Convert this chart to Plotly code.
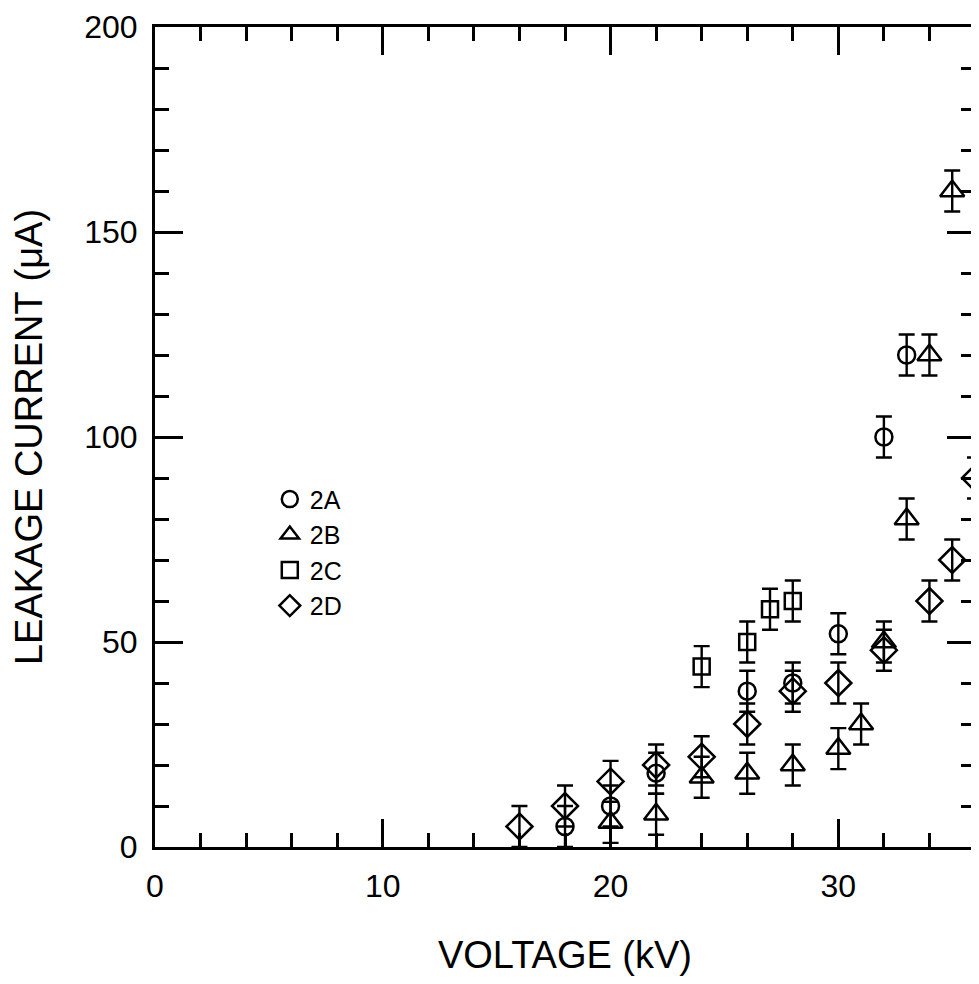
import plotly.graph_objects as go

# Data
x_2A = [18, 20, 22, 26, 28, 30, 32, 33]
y_2A = [5, 10, 18, 38, 40, 52, 100, 120]
x_2B = [20, 22, 24, 26, 28, 30, 31, 32, 33, 34, 35]
y_2B = [6, 8, 17, 18, 20, 24, 30, 50, 80, 120, 160]
x_2C = [24, 26, 27, 28]
y_2C = [44, 50, 58, 60]
x_2D = [16, 18, 20, 22, 24, 26, 28, 30, 32, 34, 35, 36]
y_2D = [5, 10, 16, 20, 22, 30, 38, 40, 48, 60, 70, 90]
err = 5

series = [
    ("2A", x_2A, y_2A, "circle-open", 17),
    ("2B", x_2B, y_2B, "triangle-up-open", 21),
    ("2C", x_2C, y_2C, "square-open", 16),
    ("2D", x_2D, y_2D, "diamond-open", 20),
]

fig = go.Figure()
for name, xs, ys, sym, sz in series:
    fig.add_trace(go.Scatter(
        x=xs, y=ys, mode="markers", name=name, legendgroup=name,
        marker=dict(symbol=sym, size=sz, color="black", line=dict(color="black", width=2.5)),
        error_y=dict(type="constant", value=err, color="black", thickness=2.4, width=8),
    ))

font = "Liberation Sans, Arial, Helvetica, sans-serif"
fig.update_layout(
    width=971, height=976,
    margin=dict(l=147, r=1, t=17, b=137),
    plot_bgcolor="white", paper_bgcolor="white",
    font=dict(family=font, color="black", size=32),
    showlegend=True,
    legend=dict(x=0.14, y=0.452, xanchor="left", yanchor="top",
                font=dict(size=25, family=font), bgcolor="rgba(0,0,0,0)",
                tracegroupgap=0, itemsizing="trace"),
)
fig.update_xaxes(
    range=[0, 36], showgrid=False, zeroline=False,
    showline=True, linecolor="black", linewidth=3, mirror="ticks",
    tickmode="array", tickvals=[0, 10, 20, 30], ticks="inside", ticklen=28, tickwidth=3, tickcolor="black",
    minor=dict(tickmode="linear", tick0=0, dtick=2, ticks="inside", ticklen=14, tickwidth=3, tickcolor="black", showgrid=False),
    tickfont=dict(size=32, family=font),
    ticklabelstandoff=9, ticklabeloverflow="allow",
    title=dict(text="VOLTAGE (kV)", font=dict(size=38, family=font), standoff=38),
)
fig.update_yaxes(
    range=[0, 200], showgrid=False, zeroline=False,
    showline=True, linecolor="black", linewidth=3, mirror="ticks",
    tickmode="array", tickvals=[0, 50, 100, 150, 200], ticks="inside", ticklen=28, tickwidth=3, tickcolor="black",
    minor=dict(tickmode="linear", tick0=0, dtick=10, ticks="inside", ticklen=14, tickwidth=3, tickcolor="black", showgrid=False),
    tickfont=dict(size=32, family=font),
    ticklabelstandoff=8, ticklabeloverflow="allow",
    title=dict(text="LEAKAGE CURRENT (μA)", font=dict(size=38, family=font), standoff=31),
)
fig.write_html("out.html")
